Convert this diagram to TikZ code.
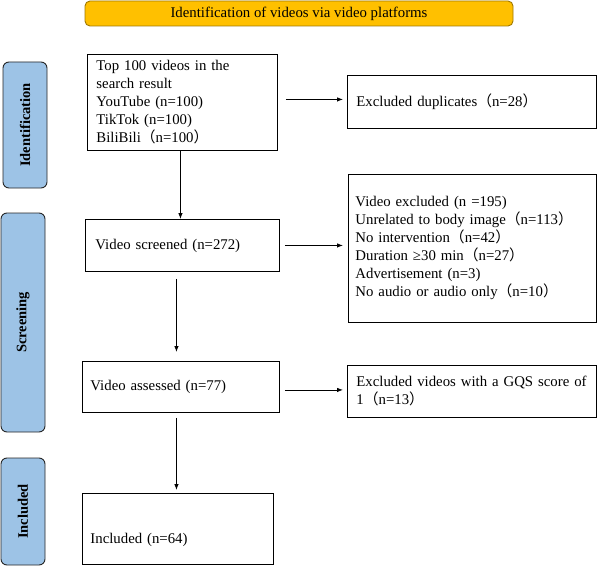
\documentclass[tikz,border=0pt]{standalone}
\usepackage{fontspec}
\setmainfont{Liberation Serif}
\newfontfamily\cjk{Noto Sans CJK SC}
\newcommand{\lpar}{{\cjk （}}
\newcommand{\rpar}{{\cjk ）}}
\usetikzlibrary{arrows.meta}
\definecolor{phaseblue}{HTML}{9DC3E6}
\definecolor{titleorange}{HTML}{FFC000}
\definecolor{titleborder}{HTML}{A07800}
\begin{document}
\begin{tikzpicture}[x=1pt,y=-1pt,
  box/.style={draw=black, line width=0.9pt, fill=white, anchor=north west, align=left,
    inner ysep=0pt, font=\fontsize{14.8}{18}\selectfont},
  phase/.style={draw=black!85, line width=0.9pt, fill=phaseblue, rounded corners=6pt,
    rotate=90, inner sep=0pt, font=\fontsize{14.5}{16}\selectfont\bfseries},
  arr/.style={-{Latex[length=6pt,width=4.5pt]}, line width=0.8pt}]
\useasboundingbox (0,0) rectangle (597,567);

% title
\node[draw=titleborder, line width=0.9pt, fill=titleorange, rounded corners=5pt,
  minimum width=428pt, minimum height=25pt, inner sep=0pt,
  font=\fontsize{14.8}{18}\selectfont] (title) at (299,13.5)
  {Identification of videos via video platforms};

% phase labels
\node[phase, minimum width=126pt, minimum height=44pt] (pid) at (25,125) {Identification};
\node[phase, minimum width=219pt, minimum height=44pt] (pscr) at (23,322.5) {Screening};
\node[phase, minimum width=107pt, minimum height=44pt] (pinc) at (23,511.5) {Included};

% main column
\node[box, inner xsep=9pt, text width=172pt, minimum height=96pt] (top) at (87,54)
  {Top 100 videos in the\\search result\\YouTube (n=100)\\TikTok (n=100)\\BiliBili\lpar n=100\rpar};
\node[box, inner xsep=10pt, text width=174pt, minimum height=52pt] (screened) at (85,219)
  {Video screened (n=272)};
\node[box, inner xsep=8pt, text width=181pt, minimum height=51pt] (assessed) at (82,361)
  {Video assessed (n=77)};
\node[box, inner xsep=8pt, text width=175pt, minimum height=71pt] (included) at (82,493)
  {\raisebox{-15pt}[0pt][0pt]{Included (n=64)}};

% right column
\node[box, inner xsep=9pt, text width=231pt, minimum height=53pt] (dup) at (347,75)
  {Excluded duplicates\lpar n=28\rpar};
\node[box, inner xsep=7pt, text width=234pt, minimum height=148pt] (excl) at (348,174)
  {Video excluded (n =195)\\Unrelated to body image\lpar n=113\rpar\\No intervention\lpar n=42\rpar\\Duration ≥30 min\lpar n=27\rpar\\Advertisement (n=3)\\No audio or audio only\lpar n=10\rpar};
\node[box, inner xsep=9pt, text width=231pt, minimum height=52pt] (gqs) at (347,365)
  {Excluded videos with a GQS score of\\1\lpar n=13\rpar};

% connectors
\draw[arr, shorten <=8pt, shorten >=4pt] ([yshift=3pt]top.east) -- ([yshift=3pt]top.east -| dup.west);
\draw[arr] ([xshift=-2pt]top.south) -- ([xshift=-2pt]top.south |- screened.north);
\draw[arr, shorten <=5pt, shorten >=5pt] (screened.east) -- (screened.east -| excl.west);
\draw[arr, shorten <=7pt, shorten >=9pt] ([xshift=-6pt]screened.south) -- ([xshift=-6pt]screened.south |- assessed.north);
\draw[arr, shorten <=5pt, shorten >=4pt] ([yshift=-3pt]assessed.east) -- ([yshift=-3pt]assessed.east -| gqs.west);
\draw[arr, shorten <=5pt, shorten >=3pt] ([xshift=-4.5pt]assessed.south) -- ([xshift=-4.5pt]assessed.south |- included.north);
\end{tikzpicture}
\end{document}
